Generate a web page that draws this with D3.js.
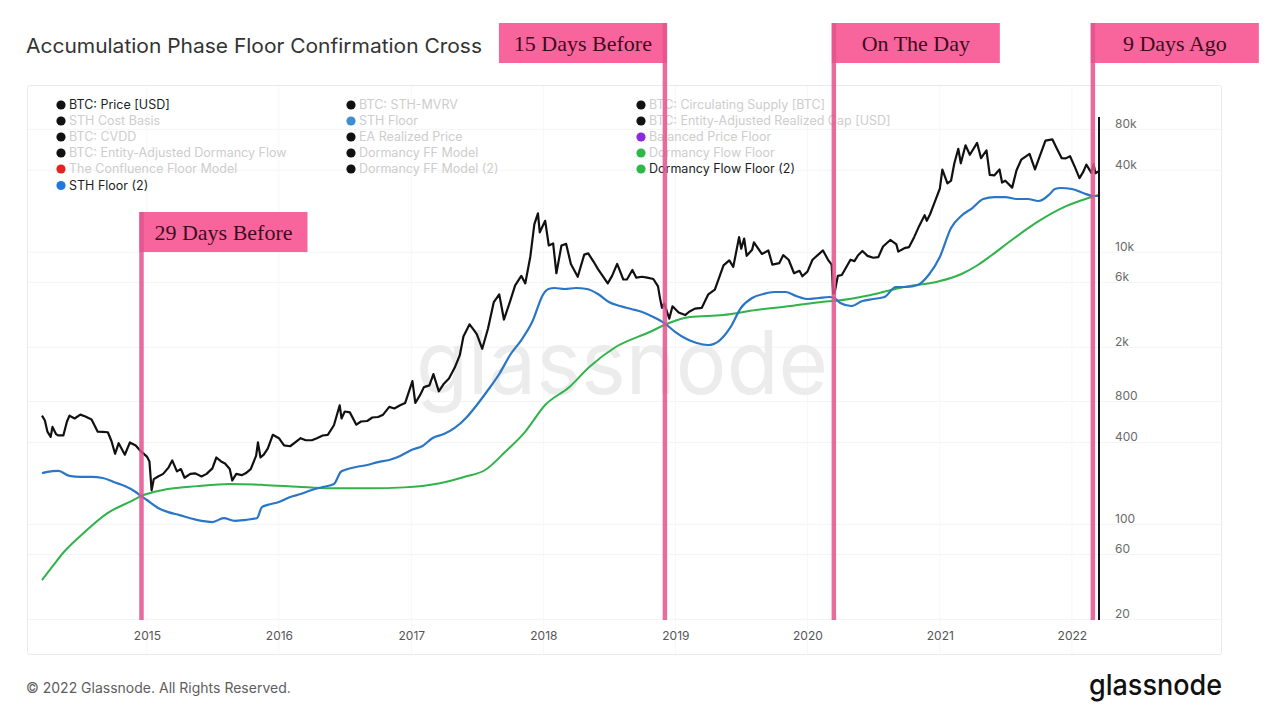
<!DOCTYPE html>
<html><head><meta charset="utf-8">
<script src="https://cdn.jsdelivr.net/npm/d3@7/dist/d3.min.js"></script>
<style>
html,body{margin:0;padding:0;background:#fff;}
svg{display:block;font-family:Inter,"Open Sans",sans-serif;}
</style></head>
<body><svg id="c" width="1280" height="720"></svg>
<script>
// ---------------- DATA ----------------
const priceSeries = [
["2014-03-17",630],["2014-03-25",580],["2014-04-01",480],["2014-04-10",440],["2014-04-15",520],["2014-04-25",460],
["2014-05-01",450],["2014-05-15",450],["2014-05-25",570],["2014-06-01",630],["2014-06-15",600],["2014-07-01",640],
["2014-07-15",620],["2014-08-01",590],["2014-08-18",480],["2014-09-01",478],["2014-09-15",475],["2014-09-25",410],
["2014-10-05",330],["2014-10-15",395],["2014-11-01",325],["2014-11-15",400],["2014-12-01",380],["2014-12-15",345],
["2015-01-01",315],["2015-01-08",290],["2015-01-14",178],["2015-01-20",215],["2015-02-01",225],["2015-02-15",235],
["2015-03-01",260],["2015-03-12",295],["2015-03-25",245],["2015-04-05",255],["2015-04-15",220],["2015-05-01",235],
["2015-05-15",237],["2015-06-01",225],["2015-06-15",235],["2015-07-01",258],["2015-07-12",310],["2015-07-25",290],
["2015-08-05",280],["2015-08-18",255],["2015-08-25",210],["2015-09-05",235],["2015-09-20",230],["2015-10-01",237],
["2015-10-15",255],["2015-10-30",320],["2015-11-04",400],["2015-11-11",310],["2015-11-20",325],["2015-12-01",360],
["2015-12-15",455],["2016-01-01",430],["2016-01-15",380],["2016-02-01",375],["2016-02-15",400],["2016-03-01",430],
["2016-03-15",415],["2016-04-01",415],["2016-04-15",430],["2016-05-01",450],["2016-05-15",455],["2016-06-01",535],
["2016-06-17",750],["2016-06-22",600],["2016-07-01",675],["2016-07-15",665],["2016-08-02",540],["2016-08-15",570],
["2016-09-01",575],["2016-09-15",610],["2016-10-01",615],["2016-10-15",640],["2016-11-01",730],["2016-11-15",710],
["2016-12-01",750],["2016-12-15",780],["2017-01-04",1130],["2017-01-12",780],["2017-01-25",890],["2017-02-05",1020],
["2017-02-20",1050],["2017-03-03",1270],["2017-03-18",950],["2017-04-01",1080],["2017-04-15",1180],["2017-05-01",1420],
["2017-05-15",1750],["2017-05-25",2400],["2017-06-11",2950],["2017-06-22",2700],["2017-07-01",2500],["2017-07-16",1950],
["2017-08-01",2750],["2017-08-17",4300],["2017-09-01",4900],["2017-09-14",3200],["2017-10-01",4350],["2017-10-15",5700],
["2017-11-01",6700],["2017-11-12",5900],["2017-11-26",9300],["2017-12-07",16000],["2017-12-17",19300],["2017-12-22",14000],
["2018-01-06",17000],["2018-01-16",11200],["2018-01-28",11600],["2018-02-06",7000],["2018-02-20",11200],["2018-03-05",11500],
["2018-03-18",8200],["2018-04-06",6600],["2018-04-24",9600],["2018-05-05",9800],["2018-05-20",8500],["2018-06-01",7500],
["2018-06-28",5900],["2018-07-10",6700],["2018-07-24",8200],["2018-08-10",6300],["2018-08-20",6300],["2018-09-04",7400],
["2018-09-15",6500],["2018-10-01",6600],["2018-10-15",6500],["2018-11-01",6350],["2018-11-14",5600],["2018-11-20",4500],
["2018-11-25",3900],["2018-12-01",4200],["2018-12-15",3250],["2018-12-24",4000],["2019-01-10",3600],["2019-01-28",3450],
["2019-02-08",3650],["2019-02-24",3850],["2019-03-15",3900],["2019-04-02",4900],["2019-04-20",5300],["2019-05-14",8000],
["2019-05-30",8700],["2019-06-10",7800],["2019-06-26",12900],["2019-07-02",10600],["2019-07-10",12600],["2019-07-17",9400],
["2019-08-01",10400],["2019-08-06",11800],["2019-08-28",9700],["2019-09-15",10300],["2019-09-26",8100],["2019-10-15",8300],
["2019-10-26",9500],["2019-11-10",8800],["2019-11-25",7000],["2019-12-10",7300],["2019-12-18",6650],["2020-01-01",7200],
["2020-01-15",8800],["2020-02-13",10300],["2020-02-28",8700],["2020-03-08",8100],["2020-03-12",4950],["2020-03-16",5000],
["2020-03-25",6700],["2020-04-05",6800],["2020-04-29",8800],["2020-05-10",8600],["2020-05-20",9500],["2020-06-01",10200],
["2020-06-15",9400],["2020-07-01",9100],["2020-07-15",9200],["2020-07-28",11000],["2020-08-17",12300],["2020-09-03",11400],
["2020-09-08",10100],["2020-09-25",10700],["2020-10-08",10900],["2020-10-22",12900],["2020-11-05",15600],["2020-11-20",18700],
["2020-11-26",17000],["2020-12-05",19000],["2020-12-17",23000],["2021-01-01",29300],["2021-01-08",40500],["2021-01-22",32000],
["2021-02-01",33500],["2021-02-10",44800],["2021-02-21",57500],["2021-02-28",45000],["2021-03-13",61000],["2021-03-25",52000],
["2021-04-14",63500],["2021-04-25",49000],["2021-05-10",56000],["2021-05-19",37000],["2021-06-01",36700],["2021-06-15",40500],
["2021-06-22",32500],["2021-07-01",33500],["2021-07-20",29800],["2021-08-01",40000],["2021-08-14",47800],["2021-09-06",52700],
["2021-09-21",40600],["2021-10-01",48000],["2021-10-20",66000],["2021-11-08",67500],["2021-11-20",58000],["2021-12-04",49000],
["2021-12-15",48900],["2021-12-27",50700],["2022-01-10",41800],["2022-01-22",35000],["2022-02-01",38700],["2022-02-10",44000],
["2022-02-24",38300],["2022-03-02",44400],["2022-03-07",38000],["2022-03-15",39300]
];
const sthFloor2Series = [
["2014-03-17",238],["2014-04-01",243],["2014-05-01",247],["2014-06-01",227],["2014-07-01",223],["2014-08-01",223],
["2014-09-01",219],["2014-10-01",205],["2014-11-01",191],["2014-12-01",173],["2014-12-15",162],["2015-01-01",151],
["2015-02-01",132],["2015-03-01",123],["2015-04-01",117],["2015-05-01",111],["2015-06-01",106],["2015-07-01",104],
["2015-08-01",111],["2015-09-01",106],["2015-10-01",108],["2015-11-01",111],["2015-11-15",134],["2015-12-01",139],
["2016-01-01",146],["2016-02-01",159],["2016-03-01",167],["2016-04-01",179],["2016-05-01",188],["2016-06-01",198],
["2016-06-20",243],["2016-07-01",251],["2016-08-01",264],["2016-09-01",273],["2016-10-01",287],["2016-11-01",297],
["2016-12-01",318],["2017-01-01",352],["2017-02-01",377],["2017-03-01",431],["2017-04-01",461],["2017-05-01",511],
["2017-06-01",605],["2017-07-01",753],["2017-08-01",971],["2017-09-01",1273],["2017-10-01",1756],["2017-11-01",2262],
["2017-12-01",3068],["2018-01-01",4928],["2018-01-15",5364],["2018-02-01",5456],["2018-03-01",5364],["2018-04-01",5456],
["2018-05-01",5364],["2018-06-01",4928],["2018-07-01",4304],["2018-08-01",4022],["2018-09-01",3822],["2018-10-01",3634],
["2018-11-01",3340],["2018-12-01",3018],["2019-01-01",2590],["2019-02-01",2302],["2019-03-01",2151],["2019-04-01",2080],
["2019-05-01",2224],["2019-06-01",2774],["2019-07-01",3890],["2019-08-01",4605],["2019-09-01",4928],["2019-10-01",5098],
["2019-11-01",5098],["2019-12-01",4764],["2020-01-01",4528],["2020-02-01",4605],["2020-03-01",4684],["2020-03-15",4605],
["2020-04-01",4232],["2020-05-01",4022],["2020-06-01",4378],["2020-07-01",4528],["2020-08-01",4684],["2020-09-01",5548],
["2020-10-01",5548],["2020-11-01",5740],["2020-12-01",6796],["2021-01-01",9218],["2021-02-01",15058],["2021-03-01",18446],
["2021-04-01",21112],["2021-05-01",24580],["2021-06-01",25420],["2021-07-01",25420],["2021-08-01",24580],["2021-09-01",24580],
["2021-10-01",23780],["2021-11-01",26760],["2021-11-15",29120],["2021-12-01",29620],["2022-01-01",29120],["2022-02-01",27200],
["2022-03-01",25860],["2022-03-15",25860]
];
const dormancyFloor2Series = [
["2014-03-17",39],["2014-04-16",49.5],["2014-05-14",61.6],["2014-07-10",86.4],["2014-09-14",121],["2014-11-16",147],
["2014-12-17",162],["2015-02-14",179],["2015-05-20",191],["2015-08-20",198],["2015-11-19",195],["2016-02-21",189],
["2016-05-22",184],["2016-09-10",184],["2016-12-12",187],["2017-03-17",200],["2017-05-29",224],["2017-07-24",251],
["2017-09-17",340],["2017-11-11",477],["2018-01-06",753],["2018-03-14",1022],["2018-05-08",1433],["2018-07-20",2010],
["2018-10-22",2590],["2018-12-11",2992],["2019-02-10",3340],["2019-05-13",3454],["2019-08-12",3760],["2019-11-15",4022],
["2020-02-14",4326],["2020-03-21",4400],["2020-06-24",4846],["2020-09-24",5548],["2020-12-25",6068],["2021-03-02",6912],
["2021-04-16",8046],["2021-05-25",9534],["2021-07-19",12286],["2021-09-29",16744],["2021-12-13",21580],["2022-03-15",26300]
];
const yTickValues = [20, 60, 100, 400, 800, 2000, 6000, 10000, 40000, 80000];
const yTickLabels = ["20","60","100","400","800","2k","6k","10k","40k","80k"];
const xTickYears = [2015, 2016, 2017, 2018, 2019, 2020, 2021, 2022];
const markerLabels = ["29 Days Before", "15 Days Before", "On The Day", "9 Days Ago"];
const markerDates = ["2014-12-17", "2018-12-03", "2020-03-14", "2022-02-28"];
const legendNames = [
  ["BTC: Price [USD]", "STH Cost Basis", "BTC: CVDD", "BTC: Entity-Adjusted Dormancy Flow", "The Confluence Floor Model", "STH Floor (2)"],
  ["BTC: STH-MVRV", "STH Floor", "EA Realized Price", "Dormancy FF Model", "Dormancy FF Model (2)"],
  ["BTC: Circulating Supply [BTC]", "BTC: Entity-Adjusted Realized Cap [USD]", "Balanced Price Floor", "Dormancy Flow Floor", "Dormancy Flow Floor (2)"]
];
const legendActive = ["BTC: Price [USD]", "STH Floor (2)", "Dormancy Flow Floor (2)"];
const titleText = "Accumulation Phase Floor Confirmation Cross";

// ---------------- CHART ----------------
const svg = d3.select("#c");
const parse = d3.timeParse("%Y-%m-%d");
const toPts = s => s.map(d => ({date: parse(d[0]), v: d[1]}));
const price = toPts(priceSeries), sth = toPts(sthFloor2Series), dff = toPts(dormancyFloor2Series);

const x = d3.scaleTime().domain([parse("2014-03-17"), parse("2022-03-17")]).range([42, 1099]);
const y = d3.scaleLog().domain([20, 160000]).range([619.5, 88.3]);

// panel
svg.append("rect").attr("x", 27.5).attr("y", 85.5).attr("width", 1194).attr("height", 569)
  .attr("fill", "#fff").attr("stroke", "#e9e9e9").attr("rx", 2);

// grid
svg.append("g").selectAll("line").data(yTickValues).join("line")
  .attr("x1", 28).attr("x2", 1221).attr("y1", d => y(d)).attr("y2", d => y(d))
  .attr("stroke", "#f4f4f4").attr("stroke-width", 1);
svg.append("g").selectAll("line").data(xTickYears).join("line")
  .attr("x1", d => x(new Date(d, 0, 1))).attr("x2", d => x(new Date(d, 0, 1)))
  .attr("y1", 86).attr("y2", 654).attr("stroke", "#f7f7f7");

// watermark
svg.append("text").attr("x", 416).attr("y", 394).attr("textLength", 412)
  .attr("lengthAdjust", "spacingAndGlyphs")
  .style("font-family", "Inter, sans-serif").style("font-weight", 400).style("font-size", "88px")
  .attr("fill", "#ececec").text("glassnode");

// axes
const yAxis = d3.axisRight(y).tickValues(yTickValues)
  .tickFormat((d, i) => yTickLabels[i]).tickSize(0).tickPadding(0);
const gy = svg.append("g").attr("transform", "translate(1115,0)").call(yAxis);
gy.select(".domain").remove();
gy.selectAll("text").attr("dy", "-0.15em").attr("fill", "#6a6a6a")
  .style("font-size", "12px").style("font-family", "Inter, sans-serif");

const xAxis = d3.axisBottom(x).tickValues(xTickYears.map(d => new Date(d, 0, 1)))
  .tickFormat(d3.timeFormat("%Y")).tickSize(0).tickPadding(0);
const gx = svg.append("g").attr("transform", "translate(0,631)").call(xAxis);
gx.select(".domain").remove();
gx.selectAll("text").attr("fill", "#555").style("font-size", "12px").style("font-family", "Inter, sans-serif");

// series
svg.append("path").attr("d", d3.line().x(d => x(d.date)).y(d => y(d.v)).curve(d3.curveMonotoneX)(dff))
  .attr("fill", "none").attr("stroke", "#2fb34a").attr("stroke-width", 2);
svg.append("path").attr("d", d3.line().x(d => x(d.date)).y(d => y(d.v)).curve(d3.curveMonotoneX)(sth))
  .attr("fill", "none").attr("stroke", "#2a76c6").attr("stroke-width", 2.2);
svg.append("path").attr("d", d3.line().x(d => x(d.date)).y(d => y(d.v))(price))
  .attr("fill", "none").attr("stroke", "#111").attr("stroke-width", 2.2).attr("stroke-linejoin", "round");

// end marker line
const endX = x.range()[1];
svg.append("line").attr("x1", endX).attr("x2", endX).attr("y1", 117).attr("y2", 620)
  .attr("stroke", "#111").attr("stroke-width", 2);

// legend
const legendColX = [61, 351, 641];
const legendRowY = [105, 121, 137, 153, 169, 185.5];
const dotColor = {"STH Floor": "#3b8fd0", "STH Floor (2)": "#1f78e0", "The Confluence Floor Model": "#e0251f",
  "Balanced Price Floor": "#8a2be2", "Dormancy Flow Floor": "#2fb84a", "Dormancy Flow Floor (2)": "#2fb84a"};
const lg = svg.append("g");
legendNames.forEach((col, ci) => col.forEach((name, ri) => {
  const on = legendActive.includes(name);
  lg.append("circle").attr("cx", legendColX[ci]).attr("cy", legendRowY[ri]).attr("r", 4.6)
    .attr("fill", dotColor[name] || "#111");
  lg.append("text").attr("x", legendColX[ci] + 8).attr("y", legendRowY[ri]).attr("dy", "0.35em")
    .style("font-size", "12.5px").attr("fill", on ? "#1e1e1e" : "#cdcdcd").text(name);
}));

// title & footer
svg.append("text").attr("x", 26).attr("y", 53).attr("textLength", 456).attr("lengthAdjust", "spacingAndGlyphs")
  .style("font-size", "20px").attr("fill", "#333").text(titleText);
svg.append("text").attr("x", 26).attr("y", 693).style("font-size", "14px").attr("fill", "#5e5e5e")
  .text("© 2022 Glassnode. All Rights Reserved.");
svg.append("text").attr("x", 1089).attr("y", 695).attr("textLength", 133).attr("lengthAdjust", "spacingAndGlyphs")
  .style("font-size", "29px").style("font-weight", 500).attr("fill", "#111").text("glassnode");

// markers
const boxTop = [212, 23, 23, 23];
const boxSide = ["right", "left", "right", "right"];
const boxW = 168, boxH = 40;
const mg = svg.append("g");
markerDates.forEach((ds, i) => {
  const mx = x(parse(ds));
  const bx = boxSide[i] === "right" ? mx - 2 : mx + 2 - boxW;
  mg.append("rect").attr("x", bx).attr("y", boxTop[i]).attr("width", boxW).attr("height", boxH)
    .attr("fill", "#f8659c");
  mg.append("text").attr("x", bx + boxW / 2).attr("y", boxTop[i] + 28).attr("text-anchor", "middle")
    .style("font-family", "'Liberation Serif', 'DejaVu Serif', serif").style("font-size", "22px")
    .attr("fill", "#3b0c20").text(markerLabels[i]);
  mg.append("line").attr("x1", mx).attr("x2", mx).attr("y1", boxTop[i]).attr("y2", 620)
    .attr("stroke", "#e3528c").attr("stroke-opacity", 0.85).attr("stroke-width", 4.5);
});
</script></body></html>
